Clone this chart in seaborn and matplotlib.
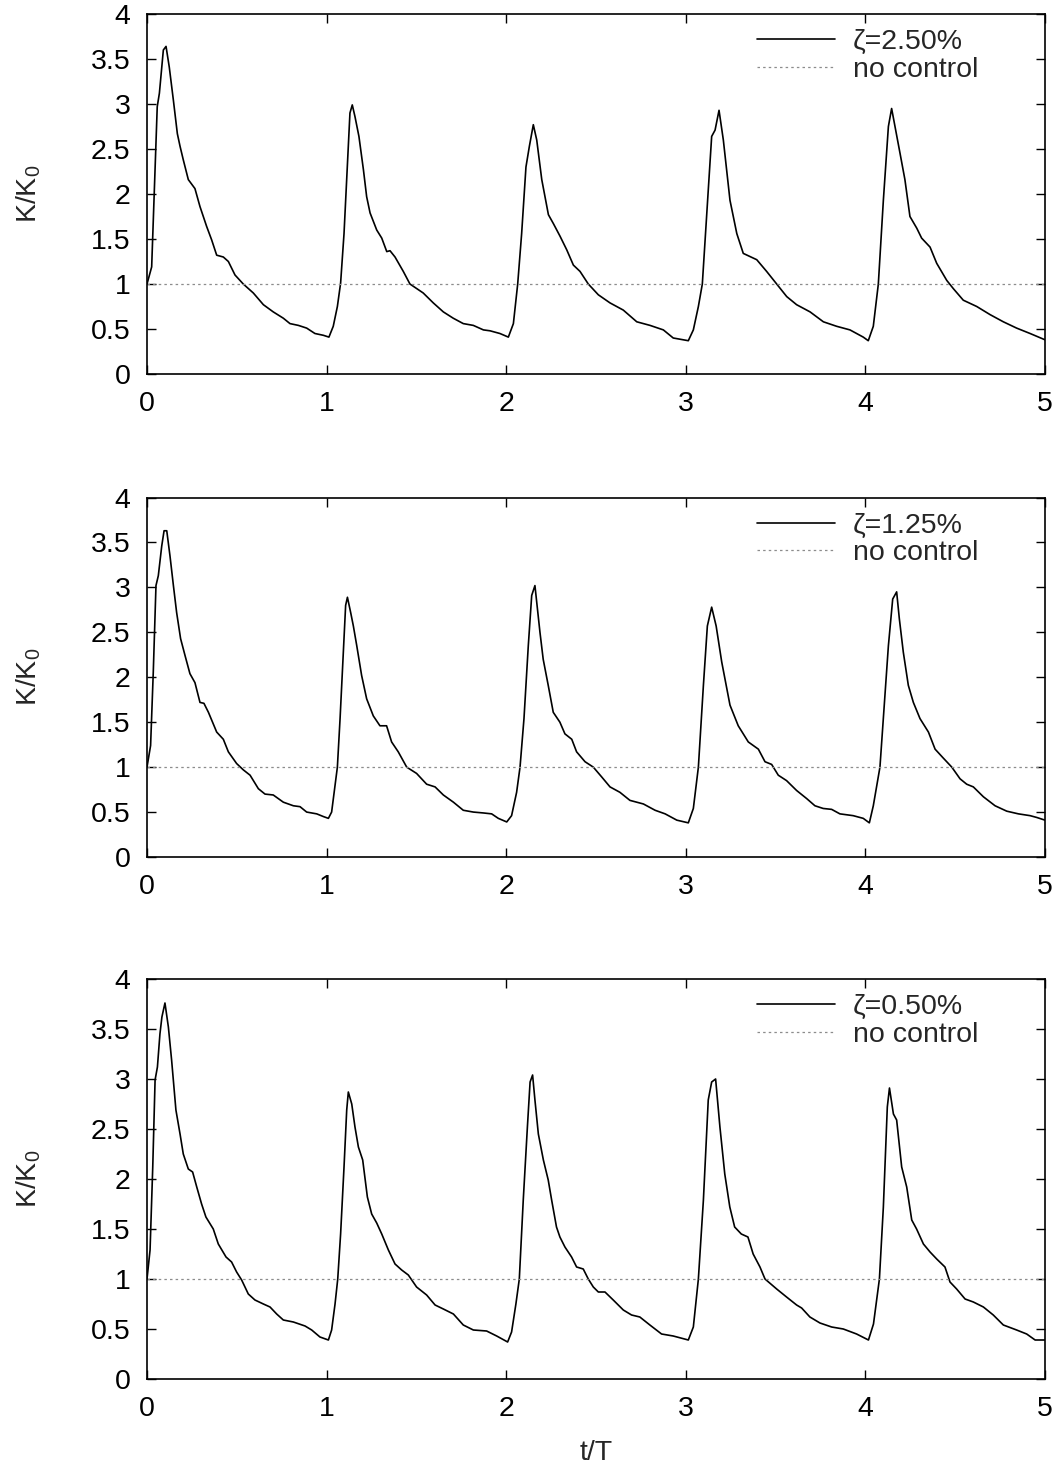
import matplotlib
matplotlib.use("Agg")
import matplotlib.pyplot as plt
import seaborn as sns
import pandas as pd

# ---------------- data ----------------
x_ticks = [0, 1, 2, 3, 4, 5]
y_ticks = [0, 0.5, 1, 1.5, 2, 2.5, 3, 3.5, 4]
y_tick_labels = ["0", "0.5", "1", "1.5", "2", "2.5", "3", "3.5", "4"]
labels = ["ζ=2.50%", "ζ=1.25%", "ζ=0.50%"]
no_control_label = "no control"
no_control_t = [0.0, 5.0]
no_control_k = [1.0, 1.0]

# (t/T, K/K0) points, zeta = 2.50 %
pts_250 = [
    (0.000, 1.00), (0.026, 1.19), (0.045, 2.30), (0.057, 2.97), (0.069, 3.12), (0.091, 3.60),
    (0.106, 3.64), (0.124, 3.41), (0.147, 3.04), (0.169, 2.67), (0.184, 2.53), (0.202, 2.38),
    (0.230, 2.16), (0.267, 2.06), (0.295, 1.86), (0.332, 1.64), (0.360, 1.49), (0.388, 1.32),
    (0.425, 1.30), (0.453, 1.25), (0.490, 1.10), (0.536, 1.00), (0.592, 0.90), (0.648, 0.77),
    (0.703, 0.69), (0.759, 0.62), (0.796, 0.56), (0.843, 0.54), (0.889, 0.51), (0.935, 0.45),
    (0.982, 0.43), (1.013, 0.41), (1.037, 0.53), (1.060, 0.75), (1.078, 1.01), (1.097, 1.56),
    (1.115, 2.30), (1.130, 2.90), (1.143, 2.99), (1.158, 2.86), (1.180, 2.64), (1.205, 2.27),
    (1.223, 1.97), (1.242, 1.79), (1.279, 1.60), (1.307, 1.51), (1.335, 1.36), (1.353, 1.37),
    (1.381, 1.30), (1.427, 1.14), (1.464, 1.00), (1.538, 0.90), (1.594, 0.79), (1.650, 0.69),
    (1.705, 0.62), (1.761, 0.56), (1.817, 0.54), (1.873, 0.49), (1.910, 0.48), (1.965, 0.45),
    (2.012, 0.41), (2.040, 0.56), (2.064, 1.00), (2.086, 1.56), (2.110, 2.30), (2.129, 2.53),
    (2.151, 2.77), (2.170, 2.60), (2.198, 2.16), (2.235, 1.77), (2.263, 1.67), (2.300, 1.53),
    (2.337, 1.38), (2.374, 1.21), (2.411, 1.14), (2.457, 1.00), (2.513, 0.88), (2.578, 0.79),
    (2.652, 0.71), (2.727, 0.58), (2.801, 0.54), (2.875, 0.49), (2.930, 0.40), (3.014, 0.37),
    (3.042, 0.49), (3.070, 0.75), (3.092, 1.00), (3.116, 1.75), (3.144, 2.64), (3.163, 2.71),
    (3.185, 2.93), (3.209, 2.60), (3.246, 1.93), (3.284, 1.56), (3.320, 1.34), (3.395, 1.27),
    (3.450, 1.14), (3.506, 1.00), (3.562, 0.86), (3.617, 0.77), (3.692, 0.69), (3.766, 0.58),
    (3.840, 0.53), (3.914, 0.49), (3.988, 0.41), (4.016, 0.37), (4.044, 0.53), (4.072, 1.00),
    (4.100, 1.93), (4.128, 2.75), (4.146, 2.95), (4.165, 2.75), (4.193, 2.45), (4.220, 2.16),
    (4.248, 1.75), (4.286, 1.62), (4.313, 1.51), (4.360, 1.41), (4.397, 1.23), (4.453, 1.04),
    (4.489, 0.95), (4.545, 0.82), (4.620, 0.75), (4.694, 0.66), (4.768, 0.58), (4.842, 0.51),
    (4.917, 0.45), (5.000, 0.38),
]

# zeta = 1.25 %
pts_125 = [
    (0.000, 1.00), (0.020, 1.24), (0.035, 2.06), (0.050, 3.02), (0.063, 3.13), (0.082, 3.46),
    (0.095, 3.63), (0.110, 3.63), (0.128, 3.35), (0.147, 3.02), (0.165, 2.72), (0.187, 2.43),
    (0.212, 2.24), (0.239, 2.04), (0.267, 1.94), (0.295, 1.72), (0.317, 1.71), (0.342, 1.61),
    (0.388, 1.39), (0.425, 1.31), (0.453, 1.17), (0.499, 1.04), (0.536, 0.97), (0.574, 0.91),
    (0.620, 0.76), (0.657, 0.70), (0.703, 0.69), (0.759, 0.61), (0.815, 0.57), (0.852, 0.56),
    (0.889, 0.50), (0.945, 0.48), (0.982, 0.45), (1.010, 0.43), (1.028, 0.50), (1.047, 0.80),
    (1.060, 1.00), (1.075, 1.54), (1.093, 2.28), (1.106, 2.80), (1.116, 2.89), (1.134, 2.72),
    (1.149, 2.57), (1.168, 2.35), (1.195, 2.02), (1.223, 1.76), (1.260, 1.57), (1.297, 1.46),
    (1.334, 1.46), (1.362, 1.28), (1.399, 1.17), (1.446, 1.00), (1.501, 0.93), (1.557, 0.81),
    (1.604, 0.78), (1.650, 0.69), (1.706, 0.61), (1.761, 0.52), (1.817, 0.50), (1.873, 0.49),
    (1.919, 0.48), (1.956, 0.43), (2.003, 0.39), (2.030, 0.46), (2.058, 0.72), (2.077, 1.00),
    (2.099, 1.54), (2.123, 2.35), (2.142, 2.91), (2.160, 3.02), (2.188, 2.50), (2.206, 2.20),
    (2.234, 1.91), (2.262, 1.61), (2.299, 1.50), (2.327, 1.37), (2.365, 1.31), (2.392, 1.17),
    (2.439, 1.06), (2.485, 1.00), (2.532, 0.89), (2.578, 0.78), (2.633, 0.72), (2.689, 0.63),
    (2.764, 0.59), (2.829, 0.52), (2.885, 0.48), (2.950, 0.41), (3.014, 0.38), (3.042, 0.54),
    (3.070, 1.00), (3.098, 1.91), (3.120, 2.57), (3.144, 2.78), (3.169, 2.57), (3.200, 2.17),
    (3.246, 1.69), (3.292, 1.46), (3.348, 1.28), (3.404, 1.20), (3.441, 1.06), (3.478, 1.03),
    (3.515, 0.91), (3.561, 0.85), (3.617, 0.74), (3.673, 0.65), (3.719, 0.57), (3.765, 0.54),
    (3.812, 0.53), (3.858, 0.48), (3.932, 0.46), (3.988, 0.43), (4.022, 0.38), (4.044, 0.57),
    (4.081, 1.00), (4.100, 1.54), (4.128, 2.35), (4.152, 2.87), (4.174, 2.95), (4.189, 2.65),
    (4.211, 2.28), (4.239, 1.91), (4.267, 1.72), (4.304, 1.54), (4.351, 1.39), (4.388, 1.20),
    (4.434, 1.10), (4.481, 1.00), (4.527, 0.87), (4.564, 0.81), (4.601, 0.78), (4.657, 0.67),
    (4.722, 0.57), (4.787, 0.51), (4.852, 0.48), (4.917, 0.46), (4.954, 0.44), (5.000, 0.41),
]

# zeta = 0.50 %
pts_050 = [
    (0.000, 1.00), (0.017, 1.29), (0.032, 2.12), (0.045, 2.99), (0.058, 3.12), (0.072, 3.45),
    (0.083, 3.62), (0.100, 3.76), (0.119, 3.52), (0.137, 3.19), (0.161, 2.69), (0.184, 2.45),
    (0.202, 2.25), (0.230, 2.10), (0.254, 2.07), (0.277, 1.92), (0.304, 1.75), (0.328, 1.62),
    (0.369, 1.50), (0.397, 1.35), (0.440, 1.22), (0.471, 1.17), (0.499, 1.07), (0.527, 0.99),
    (0.564, 0.85), (0.601, 0.79), (0.648, 0.75), (0.685, 0.72), (0.722, 0.65), (0.759, 0.59),
    (0.815, 0.57), (0.880, 0.53), (0.917, 0.49), (0.963, 0.42), (1.010, 0.39), (1.028, 0.49),
    (1.047, 0.75), (1.062, 1.00), (1.078, 1.45), (1.097, 2.12), (1.112, 2.69), (1.121, 2.87),
    (1.140, 2.75), (1.158, 2.52), (1.177, 2.32), (1.201, 2.19), (1.227, 1.82), (1.251, 1.65),
    (1.279, 1.56), (1.307, 1.45), (1.344, 1.29), (1.381, 1.15), (1.418, 1.09), (1.455, 1.04),
    (1.501, 0.92), (1.557, 0.84), (1.604, 0.74), (1.650, 0.70), (1.706, 0.65), (1.761, 0.54),
    (1.817, 0.49), (1.891, 0.48), (1.947, 0.43), (2.008, 0.37), (2.030, 0.47), (2.054, 0.75),
    (2.073, 1.00), (2.095, 1.79), (2.118, 2.52), (2.133, 2.97), (2.147, 3.04), (2.160, 2.79),
    (2.179, 2.45), (2.207, 2.19), (2.234, 1.99), (2.253, 1.79), (2.280, 1.52), (2.299, 1.42),
    (2.327, 1.32), (2.364, 1.22), (2.392, 1.12), (2.429, 1.10), (2.457, 1.00), (2.485, 0.92),
    (2.513, 0.87), (2.550, 0.87), (2.596, 0.79), (2.652, 0.69), (2.698, 0.64), (2.744, 0.62),
    (2.800, 0.54), (2.865, 0.45), (2.930, 0.43), (3.014, 0.39), (3.042, 0.52), (3.070, 1.00),
    (3.098, 1.79), (3.125, 2.79), (3.144, 2.97), (3.166, 3.00), (3.190, 2.52), (3.217, 2.05),
    (3.245, 1.72), (3.272, 1.52), (3.309, 1.45), (3.346, 1.42), (3.375, 1.25), (3.413, 1.12),
    (3.441, 1.00), (3.506, 0.90), (3.561, 0.82), (3.617, 0.74), (3.645, 0.71), (3.691, 0.62),
    (3.747, 0.56), (3.812, 0.52), (3.877, 0.50), (3.951, 0.45), (4.017, 0.39), (4.045, 0.55),
    (4.078, 1.00), (4.100, 1.72), (4.122, 2.72), (4.134, 2.91), (4.156, 2.65), (4.174, 2.59),
    (4.202, 2.12), (4.230, 1.92), (4.258, 1.59), (4.285, 1.50), (4.323, 1.35), (4.360, 1.27),
    (4.397, 1.20), (4.443, 1.12), (4.471, 0.97), (4.508, 0.90), (4.555, 0.80), (4.601, 0.77),
    (4.657, 0.72), (4.712, 0.64), (4.768, 0.54), (4.842, 0.49), (4.898, 0.45), (4.945, 0.39),
    (5.000, 0.39),
]

# ---------------- style ----------------
sns.set_theme(style="ticks")
plt.rcParams["font.family"] = ["Liberation Sans", "DejaVu Sans"]
plt.rcParams["mathtext.fontset"] = "custom"
plt.rcParams["mathtext.rm"] = "Liberation Sans"
plt.rcParams["mathtext.it"] = "Liberation Sans"
plt.rcParams["mathtext.default"] = "regular"

FS = 20.5
W, H = 1059, 1468
fig = plt.figure(figsize=(W / 100, H / 100), dpi=100)

# axes boxes in pixels: (top, bottom)
boxes = [(14, 374), (497.5, 857), (979, 1379)]
left_px, right_px = 147, 1045

series = [pts_250, pts_125, pts_050]

for i, ((top, bot), pts, lab) in enumerate(zip(boxes, series, labels)):
    ax = fig.add_axes([left_px / W, 1 - bot / H, (right_px - left_px) / W, (bot - top) / H])
    t_vals, k_vals = zip(*pts)
    df = pd.DataFrame({"t": t_vals, "K": k_vals})
    sns.lineplot(data=df, x="t", y="K", ax=ax, color="black", linewidth=1.2,
                 label=lab, estimator=None, sort=False)
    df0 = pd.DataFrame({"t": no_control_t, "K": no_control_k})
    sns.lineplot(data=df0, x="t", y="K", ax=ax, color="#8c8c8c", linewidth=0.9,
                 linestyle=(0, (2.0, 2.5)), label=no_control_label, estimator=None)

    ax.set_xlim(0, 5)
    ax.set_ylim(0, 4)
    ax.set_xticks(x_ticks)
    ax.set_xticklabels([str(v) for v in x_ticks])
    ax.set_yticks(y_ticks)
    ax.set_yticklabels(y_tick_labels)
    ax.tick_params(direction="in", length=6.5, width=1.0, labelsize=FS,
                   top=True, right=True, pad=12, colors="black")
    for s in ax.spines.values():
        s.set_visible(True)
        s.set_linewidth(1.2)
        s.set_color("black")

    ax.set_ylabel("K/K$_0$", fontsize=FS)
    ax.yaxis.set_label_coords(-(left_px - 43) / (right_px - left_px), 0.5)
    if i == 2:
        ax.set_xlabel("t/T", fontsize=FS)
        ax.xaxis.label.set_va("center")
        ax.xaxis.set_label_coords(0.5, -(1453 - bot) / (bot - top))
    else:
        ax.set_xlabel("")

    hpx = bot - top
    leg = ax.legend(loc="upper left",
                    bbox_to_anchor=((757 - left_px) / (right_px - left_px), 1 - 15 / hpx),
                    frameon=False, fontsize=FS, handlelength=2.75, handletextpad=0.63,
                    labelspacing=0.06, borderpad=0, borderaxespad=0)

fig.savefig("out.png", dpi=100)
